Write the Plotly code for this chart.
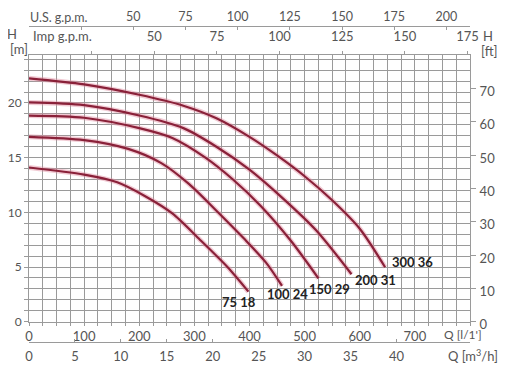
import plotly.graph_objects as go

# ---------------- data (Q in l/min, H in m) ----------------
Q_75_18 = [0, 100, 160, 210, 260, 310, 360, 398]
H_75_18 = [14.1, 13.45, 12.75, 11.5, 9.9, 7.5, 5.0, 2.75]

Q_100_24 = [0, 100, 180, 240, 290, 340, 390, 430, 459]
H_100_24 = [16.9, 16.6, 15.8, 14.5, 12.6, 10.15, 7.6, 5.4, 3.27]

Q_150_29 = [0, 100, 200, 260, 320, 370, 420, 475, 525]
H_150_29 = [18.85, 18.65, 17.7, 16.8, 15.0, 13.0, 10.6, 7.4, 3.97]

Q_200_31 = [0, 100, 200, 280, 340, 400, 460, 520, 585]
H_200_31 = [20.05, 19.8, 18.85, 17.7, 16.0, 13.9, 11.3, 8.4, 4.34]

Q_300_36 = [0, 100, 200, 280, 340, 400, 450, 500, 550, 600, 646]
H_300_36 = [22.25, 21.7, 20.75, 19.75, 18.6, 16.9, 15.2, 13.3, 11.1, 8.5, 4.98]

SERIES_NAMES = ["75 18", "100 24", "150 29", "200 31", "300 36"]

L_MIN_TICKS = [0, 100, 200, 300, 400, 500, 600, 700]
M3H_TICKS = [0, 5, 10, 15, 20, 25, 30, 35, 40]
US_GPM_TICKS = [50, 75, 100, 125, 150, 175, 200]
IMP_GPM_TICKS = [50, 75, 100, 125, 150, 175]
H_M_TICKS = [0, 5, 10, 15, 20]
H_FT_TICKS = [0, 10, 20, 30, 40, 50, 60, 70]

# ---------------- unit conversions / ranges ----------------
Q_MAX = 800.0            # l/min
FT_MAX = 80.0            # ft
M_PER_FT = 0.3048
L_PER_USG = 3.78541
L_PER_IMPG = 4.54609
L_MIN_PER_M3H = 1000.0 / 60.0
H_MAX = FT_MAX * M_PER_FT

# ---------------- styling / geometry ----------------
OFF = 8                      # page body margin of the browser
W, HGT = 510 - OFF, 368 - OFF
ML, MR, MT, MB = 29 - OFF, 40, 5, 5
PW, PH = W - ML - MR, HGT - MT - MB
GRID = "#9a9a9a"
TXT = "#555555"
FONT = "Lato"
FS = 13
LINE = "#8a2139"
HALO = "rgba(225,140,160,0.45)"

def px(x):
    return (x - OFF - ML) / PW

def py(y):
    return (HGT - MB - (y - OFF)) / PH

Y_DOM = [py(321.7), py(55)]
LABEL_OFFSETS = {"75 18": (-9, -10), "100 24": (5, -8), "150 29": (11, -11),
                 "200 31": (24, -6), "300 36": (27, 5)}

curves = [(Q_75_18, H_75_18), (Q_100_24, H_100_24), (Q_150_29, H_150_29),
          (Q_200_31, H_200_31), (Q_300_36, H_300_36)]

fig = go.Figure()
annotations = []
for name, (q, h) in zip(SERIES_NAMES, curves):
    fig.add_trace(go.Scatter(x=q, y=h, mode="lines", line=dict(color=HALO, width=5, shape="spline", smoothing=0.8),
                             hoverinfo="skip", showlegend=False))
    fig.add_trace(go.Scatter(x=q, y=h, mode="lines", name=name,
                             line=dict(color=LINE, width=2.2, shape="spline", smoothing=0.8), showlegend=False))
    dx, dy = LABEL_OFFSETS[name]
    annotations.append(dict(x=q[-1], y=h[-1], xref="x", yref="y", text="<b>%s</b>" % name, showarrow=False,
                            xshift=dx, yshift=dy, font=dict(family=FONT, size=FS, color="#222222")))

# invisible traces that activate the extra axes
for xa, ya in [("x2", "y2"), ("x3", "y"), ("x4", "y")]:
    fig.add_trace(go.Scatter(x=[0], y=[0], xaxis=xa, yaxis=ya, mode="markers", marker=dict(opacity=0),
                             hoverinfo="skip", showlegend=False))

grid_q = list(range(0, int(Q_MAX) + 1, 25))
grid_h = list(range(0, int(H_MAX) + 1))
tickfont = dict(family=FONT, size=FS, color=TXT)

def sparse_labels(vals, labelled):
    return [str(v) if v in labelled else " " for v in vals]

imp_vals = [25] + IMP_GPM_TICKS
us_vals = [25] + US_GPM_TICKS

fig.update_layout(
    width=W, height=HGT, margin=dict(l=ML, r=MR, t=MT, b=MB),
    paper_bgcolor="white", plot_bgcolor="white", template="none", showlegend=False,
    xaxis=dict(domain=[0, 1], range=[0, Q_MAX], anchor="y", tickvals=grid_q, tickangle=0,
               ticktext=sparse_labels(grid_q, L_MIN_TICKS), showgrid=True, gridcolor=GRID, gridwidth=1,
               ticks="outside", ticklen=3, tickcolor=GRID, zeroline=False, showline=True, linecolor=GRID,
               linewidth=1, mirror=True, tickfont=tickfont, automargin=False, ticklabelstandoff=0),
    yaxis=dict(domain=Y_DOM, range=[0, H_MAX], anchor="x", tickvals=grid_h, tickangle=0,
               ticktext=sparse_labels(grid_h, H_M_TICKS), showgrid=True, gridcolor=GRID, gridwidth=1,
               ticks="outside", ticklen=4, tickcolor=GRID, zeroline=False, showline=True, linecolor=GRID,
               linewidth=1, mirror=True, tickfont=dict(family=FONT, size=12, color=TXT), automargin=False),
    yaxis2=dict(overlaying="y", side="right", anchor="x", range=[0, FT_MAX], tickvals=H_FT_TICKS, tickangle=0,
                showgrid=False, zeroline=False, ticks="outside", ticklen=5, tickcolor=GRID,
                tickfont=tickfont, automargin=False, ticklabelshift=3, ticklabelstandoff=1),
    xaxis2=dict(overlaying="x", side="top", anchor="y", range=[0, Q_MAX / L_PER_IMPG], tickvals=imp_vals,
                ticktext=sparse_labels(imp_vals, IMP_GPM_TICKS), showgrid=False, zeroline=False, tickangle=0,
                ticks="outside", ticklen=3, tickcolor=GRID, tickfont=tickfont, automargin=False,
                ticklabelstandoff=5),
    xaxis3=dict(overlaying="x", side="top", anchor="free", position=py(26), range=[0, Q_MAX / L_PER_USG],
                tickvals=us_vals, ticktext=sparse_labels(us_vals, US_GPM_TICKS), showgrid=False, tickangle=0,
                zeroline=False, showline=True, linecolor=GRID, linewidth=1, ticks="inside", ticklen=3,
                tickcolor=GRID, tickfont=dict(family=FONT, size=12.5, color=TXT), automargin=False,
                ticklabelstandoff=0),
    xaxis4=dict(overlaying="x", side="bottom", anchor="free", position=py(342),
                range=[0, Q_MAX / L_MIN_PER_M3H], tickangle=0,
                tickvals=M3H_TICKS, showgrid=False, zeroline=False, showline=True, linecolor=GRID,
                linewidth=1, ticks="inside", ticklen=3, tickcolor=GRID, tickfont=tickfont,
                automargin=False, ticklabelstandoff=2),
)

def paper_text(text, x, y, xanchor="left", size=FS):
    return dict(x=px(x), y=py(y), xref="paper", yref="paper", text=text, showarrow=False,
                xanchor=xanchor, yanchor="middle", font=dict(family=FONT, size=size, color=TXT))

annotations += [
    paper_text("U.S. g.p.m.", 28, 17, size=12.5),
    paper_text("Imp g.p.m.", 31, 36),
    paper_text("H", 12, 34, "center"),
    paper_text("[m]", 8, 49, "left"),
    paper_text("H", 488, 36, "center"),
    paper_text("[ft]", 489, 51, "center"),
    paper_text("Q [l/1']", 442, 334, size=12),
    paper_text("Q [m<sup>3</sup>/h]", 446, 355),
]
fig.update_layout(annotations=annotations)

fig.write_html("out.html")
